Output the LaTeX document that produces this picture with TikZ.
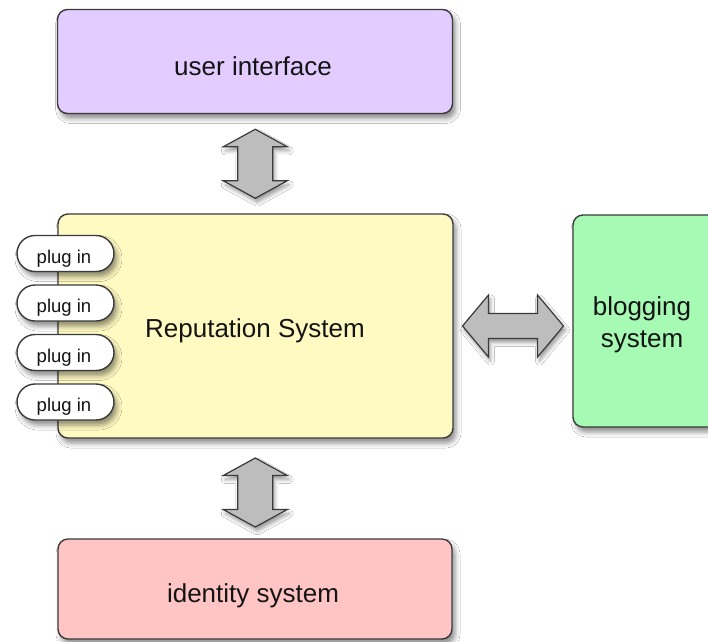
\documentclass[tikz,border=0pt]{standalone}
\usepackage{fontspec}
\setmainfont{Liberation Sans}
\usetikzlibrary{shadows.blur,calc}
\definecolor{uicol}{HTML}{E3CCFF}
\definecolor{repcol}{HTML}{FFFAC2}
\definecolor{blogcol}{HTML}{A6FAB4}
\definecolor{idcol}{HTML}{FFC4C4}
\definecolor{edgecol}{HTML}{3A3A3A}
\definecolor{arrcol}{HTML}{BDBDBD}
\definecolor{txtcol}{HTML}{141414}
\newcommand{\dblvarrow}[1]{\draw[bigarrow, shift={#1}] (0,-34.5) -- (32,-17) -- (17.5,-17) -- (17.5,17) -- (32,17) -- (0,34.5) -- (-32,17) -- (-17.5,17) -- (-17.5,-17) -- (-32,-17) -- cycle;}
\newcommand{\dblharrow}[1]{\draw[bigarrow, shift={#1}] (-50.5,0) -- (-24.5,-31) -- (-24.5,-12.5) -- (24.5,-12.5) -- (24.5,-31) -- (50.5,0) -- (24.5,31) -- (24.5,12.5) -- (-24.5,12.5) -- (-24.5,31) -- cycle;}
\begin{document}
\begin{tikzpicture}[x=1pt,y=-1pt,
  sys/.style={draw=edgecol, line width=1.4pt, rounded corners=10pt, inner sep=0pt,
    blur shadow={shadow xshift=3pt, shadow yshift=-5pt, shadow blur radius=5pt, shadow opacity=45}},
  lbl/.style={font=\fontsize{26}{32}\selectfont, text=txtcol, anchor=base, inner sep=0pt},
  plug/.style={sys, fill=white, rounded corners=18pt, minimum width=97pt, minimum height=36pt},
  plbl/.style={font=\fontsize{18.5}{20}\selectfont, text=txtcol, anchor=base, inner sep=0pt},
  bigarrow/.style={draw=edgecol, fill=arrcol, line width=1.2pt, line join=miter,
    blur shadow={shadow xshift=2pt, shadow yshift=-4pt, shadow blur radius=4pt, shadow opacity=40}}
]
\useasboundingbox (0,0) rectangle (708,641);
\fill[white] (0,0) rectangle (708,641);

% boxes
\node[sys, fill=uicol, minimum width=395pt, minimum height=104pt] (ui) at (255,61.5) {};
\node[sys, fill=repcol, minimum width=395pt, minimum height=224pt] (rep) at (255.5,326) {};
\node[sys, fill=blogcol, minimum width=150pt, minimum height=212pt] (blog) at (648,321) {};
\node[sys, fill=idcol, minimum width=394pt, minimum height=100pt] (id) at (255,589) {};

% labels
\node[lbl] (uit) at (253,75) {user interface};
\node[lbl] (rept) at (255,337.5) {Reputation System};
\node[lbl] (blogt1) at (642,315) {blogging};
\node[lbl] (blogt2) at (642,347) {system};
\node[lbl] (idt) at (253,602) {identity system};

% plug-ins
\foreach \i/\yy in {1/253.5, 2/303, 3/352.5, 4/402}{
  \node[plug] (p\i) at (65.5,\yy) {};
  \node[plbl] (p\i t) at (64,\yy+9.5) {plug in};
}

% connectors between the boxes
\coordinate (c1) at ($(ui.south)!0.5!(rep.north)$);
\coordinate (c2) at ($(rep.south)!0.5!(id.north)+(0,4)$);
\coordinate (c3) at ($(rep.east |- rep.center)!0.5!(blog.west |- rep.center)$);
\dblvarrow{(c1)}
\dblvarrow{(c2)}
\dblharrow{(c3)}
\end{tikzpicture}
\end{document}
